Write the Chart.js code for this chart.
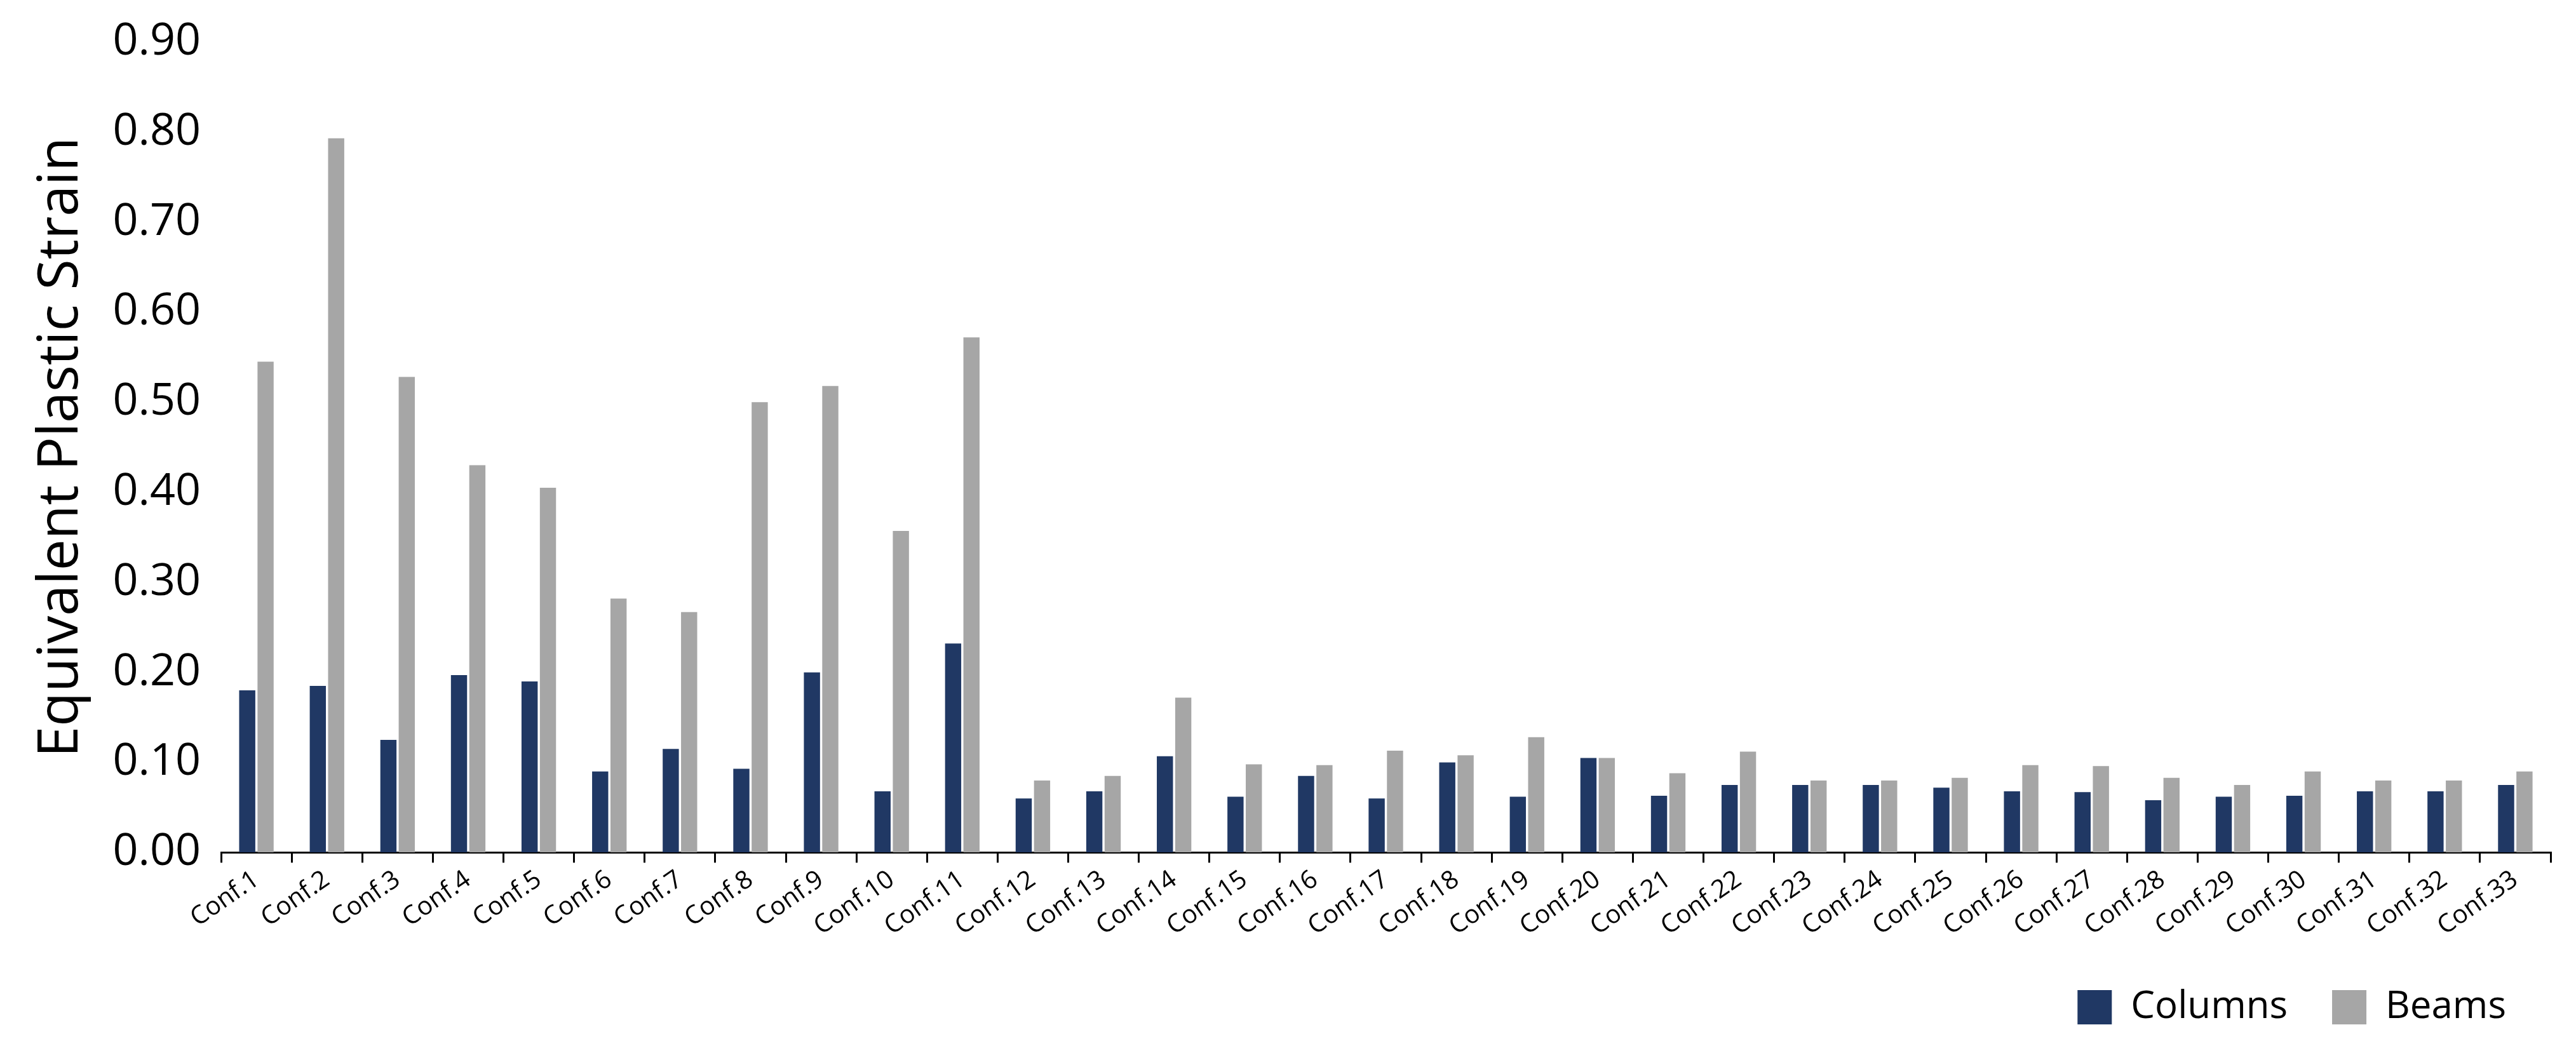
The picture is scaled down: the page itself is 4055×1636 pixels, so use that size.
<!DOCTYPE html>
<html><head><meta charset="utf-8">
<script src="https://cdn.jsdelivr.net/npm/chart.js@4"></script>
<style>html,body{margin:0;padding:0;background:#fff}</style>
</head><body>
<canvas id="c" width="4055" height="1636"></canvas>
<script>
const categories = Array.from({length:33},(_,i)=>'Conf.'+(i+1));
const columns = [0.18,0.185,0.125,0.197,0.19,0.09,0.115,0.093,0.20,0.068,0.232,0.06,0.068,0.107,0.062,0.085,0.06,0.10,0.062,0.105,0.063,0.075,0.075,0.075,0.072,0.068,0.067,0.058,0.062,0.063,0.068,0.068,0.075];
const beams = [0.545,0.793,0.528,0.43,0.405,0.282,0.267,0.50,0.518,0.357,0.572,0.08,0.085,0.172,0.098,0.097,0.113,0.108,0.128,0.105,0.088,0.112,0.08,0.08,0.083,0.097,0.096,0.083,0.075,0.09,0.08,0.08,0.09];
const yTicks = [0,0.1,0.2,0.3,0.4,0.5,0.6,0.7,0.8,0.9];
const F = "'Open Sans', 'Liberation Sans', sans-serif";
new Chart(document.getElementById('c'), {
  type:'bar',
  data:{labels:categories,datasets:[
    {label:'Columns',data:columns,backgroundColor:'#203864',categoryPercentage:0.52,barPercentage:0.88},
    {label:'Beams',data:beams,backgroundColor:'#A6A6A6',categoryPercentage:0.52,barPercentage:0.88}
  ]},
  options:{responsive:false,animation:false,
    layout:{padding:{left:40,right:40,top:60,bottom:10}},
    plugins:{legend:{position:'bottom',align:'end',labels:{font:{family:F,size:60},color:'#000',boxWidth:54,boxHeight:54,padding:70}},tooltip:{enabled:false}},
    scales:{
      x:{grid:{display:true,drawOnChartArea:false,drawTicks:true,tickLength:16,color:'#000',lineWidth:3,offset:true},border:{color:'#000',width:3},
        ticks:{color:'#000',font:{family:F,size:40},minRotation:35,maxRotation:35,autoSkip:false}},
      y:{min:0,max:0.9,afterBuildTicks:a=>{a.ticks=yTicks.map(v=>({value:v}));},
        grid:{display:false},border:{display:false},
        ticks:{color:'#000',font:{family:F,size:70},callback:v=>v.toFixed(2),padding:24},
        title:{display:true,text:'Equivalent Plastic Strain',color:'#000',font:{family:F,size:88}}}
    }}
});
</script>
</body></html>
